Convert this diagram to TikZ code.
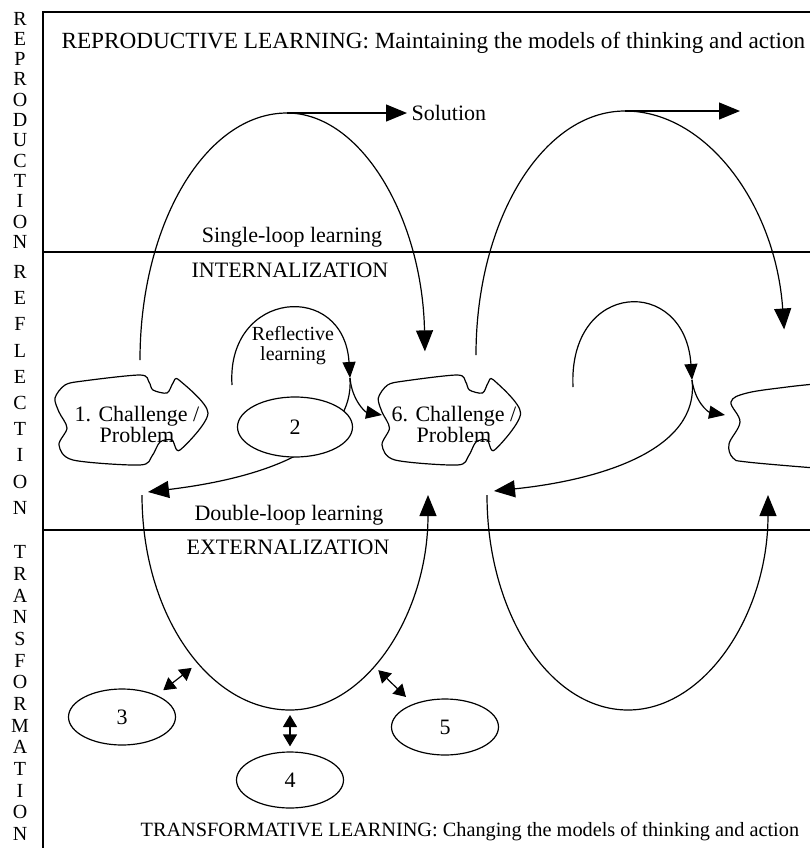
\documentclass[tikz,border=0pt]{standalone}
\usepackage{fontspec}
\setmainfont{Liberation Serif}
\usetikzlibrary{arrows.meta,shapes.geometric}
\tikzset{
  lbl/.style={font=\fontsize{11}{10.5}\selectfont, inner sep=0pt, align=center},
  letter/.style={font=\fontsize{10}{10}\selectfont, inner sep=0pt},
  oval/.style={ellipse, draw, fill=white, minimum width=53.5pt, minimum height=28pt, inner sep=0pt, font=\fontsize{11}{11}\selectfont},
  bigtip/.style={-{Triangle[length=10.5pt,width=8.5pt]}},
  midtip/.style={-{Triangle[length=8pt,width=6.5pt]}},
  dbltip/.style={{Triangle[length=6pt,width=7pt]}-{Triangle[length=6pt,width=7pt]}},
  challenge/.pic={
    \draw[fill=white] plot[smooth cycle, tension=0.5] coordinates {
      (-66,-35) (-48,-39) (9,-45) (18,-38) (22,-30) (36,-27) (42,-37) (48,-40)
      (77,-7) (49,30) (41,20) (29,22) (21,36) (9,45) (-58,40)
      (-72,25) (-64,8) (-72,-8) (-76,-22)};
  }
}
\begin{document}
\begin{tikzpicture}[x=0.5pt,y=-0.5pt,line width=0.6pt]
\useasboundingbox (0,0) rectangle (810,848);

% side captions
\foreach \l [count=\i from 0] in {R,E,P,R,O,D,U,C,T,I,O,N}
  \node[letter] (rep\i) at (20,{18.5+20.3*\i}) {\l};
\foreach \l [count=\i from 0] in {R,E,F,L,E,C,T,I,O,N}
  \node[letter] (ref\i) at (20,{272+26.2*\i}) {\l};
\foreach \l [count=\i from 0] in {T,R,A,N,S,F,O,R,M,A,T,I,O,N}
  \node[letter] (tra\i) at (20,{552+21.7*\i}) {\l};

% frame and levels
\draw (43,848) -- (43,12) -- (815,12);
\draw (43,252) -- (815,252);
\draw (43,530) -- (815,530);

% labels
\node[lbl, anchor=west, font=\fontsize{11.6}{12}\selectfont] (head) at (61,43) {REPRODUCTIVE LEARNING: Maintaining the models of thinking and action};
\node[lbl, anchor=west] (sol) at (411,113) {Solution};
\node[lbl] (single) at (292,237) {Single-loop learning};
\node[lbl] (intern) at (290,270) {INTERNALIZATION};
\node[lbl] (double) at (289,515) {Double-loop learning};
\node[lbl] (extern) at (288,547) {EXTERNALIZATION};
\node[lbl, anchor=west, font=\fontsize{10.15}{12}\selectfont] (foot) at (140,832) {TRANSFORMATIVE LEARNING: Changing the models of thinking and action};
\node[lbl, font=\fontsize{10}{10}\selectfont] (refl) at (293,346) {Reflective\\learning};

% challenges
\pic at (131,420) {challenge};
\node[lbl] (c1) at (137,424) {1. Challenge /\\Problem};
\pic[xscale=.93] at (449,420) {challenge};
\node[lbl] (c6) at (454,424) {6. Challenge /\\Problem};
\draw plot[smooth, tension=.6] coordinates {(815,384) (787,387) (747,393) (731,402)
  (740,422) (729,444) (733,458) (747,462) (815,468)};

% single loops
\draw[bigtip] (140,360) arc[start angle=180,end angle=270,x radius=147,y radius=247]
  coordinate (topA) arc[start angle=270,end angle=358,x radius=138,y radius=247];
\draw[bigtip, shorten >=2pt] (topA) -- (sol.west);
\draw[bigtip] (476,355) arc[start angle=180,end angle=270,x radius=149,y radius=244]
  coordinate (topB) arc[start angle=270,end angle=354,x radius=160,y radius=244];
\coordinate (solB) at (740,111);
\draw[bigtip] (topB) -- (solB);

% reflective loops
\coordinate (rA) at (350,378);
\coordinate (in6) at (382,415);
\coordinate (dA) at (148,492);
\draw[midtip] (232,385) .. controls (226,290) and (344,280) .. (rA);
\draw[midtip] (rA) .. controls (352,400) and (365,412) .. (in6);
\draw[bigtip] (rA) .. controls (354,440) and (280,476) .. (dA);
\coordinate (rB) at (692,380);
\coordinate (inR) at (725,415);
\coordinate (dB) at (494,491);
\draw[midtip] (573,387) .. controls (568,280) and (685,275) .. (rB);
\draw[midtip] (rB) .. controls (695,402) and (708,412) .. (inR);
\draw[bigtip] (rB) .. controls (700,450) and (600,480) .. (dB);

\node[oval, minimum width=57.5pt, minimum height=30pt] (e2) at (295,427) {2};

% double loops
\draw[bigtip] (142,495) arc[start angle=180,end angle=90,x radius=148,y radius=215]
  coordinate (botL) arc[start angle=90,end angle=0,x radius=138,y radius=215];
\draw[bigtip] (487,495) arc[start angle=180,end angle=90,x radius=141,y radius=215]
  coordinate (botR) arc[start angle=90,end angle=0,x radius=140,y radius=215];

\node[oval] (e3) at (122,717) {3};
\node[oval] (e4) at (290,780) {4};
\node[oval] (e5) at (445,727) {5};
\coordinate (k3) at (198,663);
\coordinate (k5) at (374,666);
\draw[dbltip, shorten <=4pt, shorten >=4pt] (e3.32) -- (k3);
\draw[dbltip, shorten <=2.5pt, shorten >=2.5pt] (botL) -- (e4.north);
\draw[dbltip, shorten <=3pt, shorten >=5pt] (k5) -- (e5.144);
\end{tikzpicture}
\end{document}
